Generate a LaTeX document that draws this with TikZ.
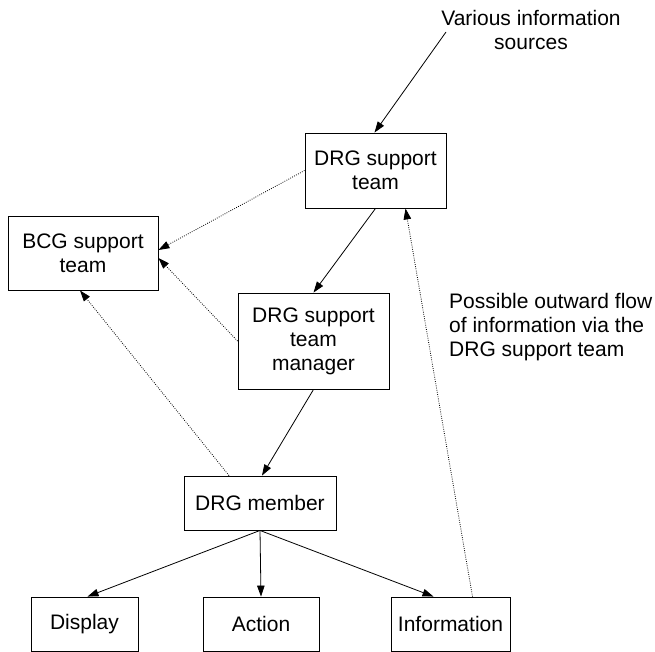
\documentclass[tikz,border=0pt]{standalone}
\usepackage{fontspec}
\setmainfont{Liberation Sans}
\usetikzlibrary{arrows.meta}
\begin{document}
\begin{tikzpicture}[x=1pt,y=-1pt,
  font=\fontsize{21}{24}\selectfont,
  box/.style={draw,line width=0.9pt,align=center,inner sep=0pt},
  flow/.style={line width=0.8pt,-{Triangle[length=11pt,width=7.5pt]}},
  dflow/.style={line width=0.8pt,dash pattern=on 0.8pt off 1.4pt,-{Triangle[length=11pt,width=7.5pt]}}]
\useasboundingbox (0,0) rectangle (655,651);
\node[box,minimum width=141pt,minimum height=75pt] (drg) at (375.5,170.5) {DRG support\\team};
\node[box,minimum width=150pt,minimum height=74pt] (bcg) at (83,253) {BCG support\\team};
\node[box,minimum width=151pt,minimum height=96pt] (mgr) at (313.5,341) {DRG support\\team\\manager};
\node[box,minimum width=152pt,minimum height=54pt] (mem) at (260,503) {DRG member};
\node[box,minimum width=107pt,minimum height=54pt] (disp) at (84.5,624) {Display};
\node[box,minimum width=116pt,minimum height=54pt] (act) at (261,624) {Action};
\node[box,minimum width=119pt,minimum height=54pt] (info) at (450.5,624) {Information};
\node[align=center,inner sep=0pt] (src) at (531,30) {Various information\\sources};
\node[align=left,anchor=west,inner sep=0pt] (note) at (449,327) {Possible outward flow\\of information via the\\DRG support team};
\coordinate (srcpt) at (446,32);
\draw[flow] (srcpt) -- ([xshift=-1pt]drg.north);
\draw[flow] (drg.south) -- (mgr.north);
\draw[flow] (mgr.south) -- ([xshift=2pt]mem.north);
\draw[flow] (mem.south) -- ([xshift=3pt]disp.north);
\draw[flow] (mem.south) -- (act.north);
\draw[flow] (mem.south) -- ([xshift=-17pt]info.north);
\draw[dflow] (drg.west) -- ([yshift=3pt]bcg.east);
\draw[dflow] (mgr.west) -- ([yshift=-5pt]bcg.east);
\draw[dflow] ([xshift=-31pt]mem.north) -- ([xshift=-3pt]bcg.south);
\draw[dflow] ([xshift=22pt]info.north) -- ([xshift=30pt]drg.south);
\end{tikzpicture}
\end{document}
